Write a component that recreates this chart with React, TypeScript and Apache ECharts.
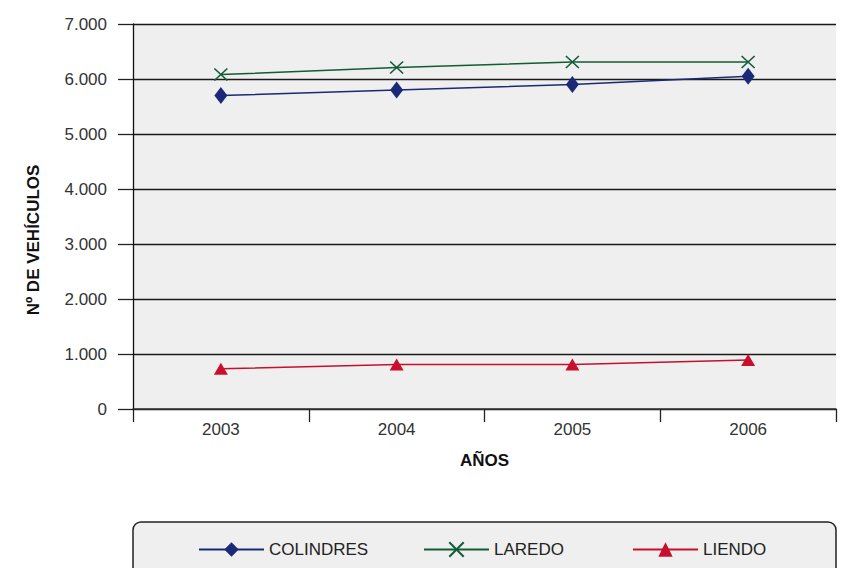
import React, { useEffect, useRef } from "react";
import * as echarts from "echarts";

const years = ["2003", "2004", "2005", "2006"];
const colindres = [5700, 5800, 5900, 6050];
const laredo = [6080, 6210, 6310, 6310];
const liendo = [730, 810, 810, 890];
const yTicks = [0, 1000, 2000, 3000, 4000, 5000, 6000, 7000];

const FONT = "Liberation Sans, Arial, sans-serif";
const NAVY = "#1b2a78";
const GREEN = "#125c38";
const RED = "#c8102e";
const XPATH = "path://M0,0L10,10M10,0L0,10";

export default function App() {
  const ref = useRef<HTMLDivElement>(null);
  useEffect(() => {
    if (!ref.current) return;
    const chart = echarts.init(ref.current, null, { renderer: "svg" });
    const fmt = (v: number) => {
      if (v === 0) return "0";
      const s = String(v);
      return s.replace(/\B(?=(\d{3})+(?!\d))/g, ".");
    };
    const legendBase = {
      top: 536,
      itemWidth: 65,
      itemHeight: 18,
      itemGap: 12,
      textStyle: { fontFamily: FONT, fontSize: 17, color: "#222" },
    };
    chart.setOption({
      animation: false,
      backgroundColor: "#ffffff",
      grid: {
        left: 133,
        right: 7,
        top: 24,
        bottom: 159,
        show: true,
        backgroundColor: "#eeefee",
        borderWidth: 0,
      },
      graphic: [
        {
          type: "rect",
          z: -1,
          shape: { x: 133, y: 522, width: 703, height: 70, r: 8 },
          style: { fill: "#eeefee", stroke: "#222", lineWidth: 1.5 },
          silent: true,
        },
        {
          type: "text",
          x: 33,
          y: 240,
          rotation: Math.PI / 2,
          silent: true,
          style: {
            text: "Nº DE VEHÍCULOS",
            fontFamily: FONT,
            fontSize: 17,
            fontWeight: "bold",
            fill: "#111",
            align: "center",
            verticalAlign: "middle",
          },
        },
      ],
      legend: [
        { ...legendBase, left: 193, data: ["COLINDRES"] },
        { ...legendBase, left: 418, data: ["LAREDO"] },
        { ...legendBase, left: 627, data: ["LIENDO"] },
      ],
      xAxis: {
        type: "category",
        data: years,
        boundaryGap: true,
        name: "AÑOS",
        nameLocation: "middle",
        nameGap: 43,
        nameTextStyle: { fontFamily: FONT, fontSize: 17, fontWeight: "bold", color: "#111" },
        axisLine: { show: true, lineStyle: { color: "#333", width: 1.5 } },
        axisTick: { show: true, length: 13, lineStyle: { color: "#222", width: 1.3 } },
        axisLabel: { fontFamily: FONT, fontSize: 17, color: "#333", margin: 12 },
        splitLine: { show: false },
      },
      yAxis: {
        type: "value",
        min: 0,
        max: 7000,
        interval: 1000,
        axisLine: { show: true, lineStyle: { color: "#111", width: 1.3 } },
        axisTick: { show: true, length: 15, lineStyle: { color: "#222", width: 1.3 } },
        axisLabel: {
          fontFamily: FONT,
          fontSize: 17,
          color: "#333",
          margin: 26,
          formatter: (v: number) => (yTicks.includes(v) ? fmt(v) : ""),
        },
        splitLine: { show: true, lineStyle: { color: "#1a1a1a", width: 1.3 } },
      },
      series: [
        {
          name: "COLINDRES",
          type: "line",
          data: colindres,
          symbol: "diamond",
          symbolSize: [13, 17],
          itemStyle: { color: NAVY },
          lineStyle: { color: NAVY, width: 1.5 },
          z: 3,
        },
        {
          name: "LAREDO",
          type: "line",
          data: laredo,
          symbol: XPATH,
          symbolSize: [13, 12],
          symbolKeepAspect: false,
          itemStyle: { color: "rgba(0,0,0,0)", borderColor: GREEN, borderWidth: 1.5 },
          lineStyle: { color: GREEN, width: 1.5 },
          z: 3,
        },
        {
          name: "LIENDO",
          type: "line",
          data: liendo,
          symbol: "triangle",
          symbolSize: [14, 12],
          itemStyle: { color: RED },
          lineStyle: { color: RED, width: 1.5 },
          z: 3,
        },
      ],
    });
    return () => chart.dispose();
  }, []);
  return (
    <div
      ref={ref}
      style={{ position: "fixed", left: 0, top: 0, width: 843, height: 568 }}
    />
  );
}
